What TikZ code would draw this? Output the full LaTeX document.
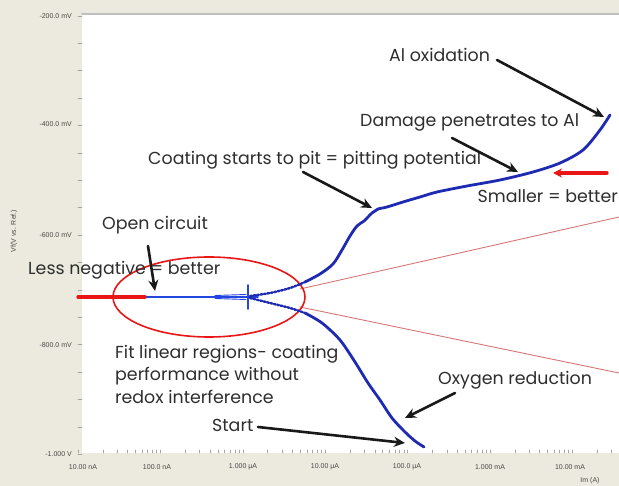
\documentclass[tikz,border=0pt]{standalone}
\usepackage{fontspec}
\setmainfont{Poppins}
\newfontfamily\tickfont{Liberation Sans}
\usetikzlibrary{arrows.meta}
\definecolor{panel}{RGB}{236,234,222}
\definecolor{scanblue}{RGB}{30,42,178}
\definecolor{flatblue}{RGB}{35,70,225}
\definecolor{tafelred}{RGB}{214,120,120}
\definecolor{hintred}{RGB}{232,22,22}

\begin{document}
\begin{tikzpicture}[x=1pt,y=-1pt,line cap=round,
  note/.style={font=\fontsize{17.4}{22.5}\selectfont,text=black!82,inner sep=0pt},
  tick label/.style={font=\tickfont\fontsize{7}{8}\selectfont,text=black!72,inner sep=0pt},
  axis tick/.style={black!35,line width=0.6pt},
  pointer/.style={-{Stealth[length=11pt,width=10pt]},line width=2.6pt,black!90},
  hint/.style={hintred,line width=3.2pt}
  ]

  % panel and plot area
  \fill[panel] (0,0) rectangle (619,486);
  \useasboundingbox (0,0) rectangle (619,486);
  \fill[white] (82,15) rectangle (619,453);
  \draw[black!25,line width=2pt] (82,14) -- (619,14);

  % y axis
  \foreach \v/\y in {-200.0 mV/16,-400.0 mV/124,-600.0 mV/235,-800.0 mV/345,-1.000 V/454}
    \node[tick label,anchor=east] at (72,\y) {\v};
  \foreach \k in {0,...,16}
    \draw[axis tick] (78,16+27.4*\k) -- (82,16+27.4*\k);
  \node[tick label,rotate=90] (vtitle) at (14,231) {Vf(V vs. Ref.)};

  % x axis
  \foreach \v/\x in {10.00 nA/83,100.0 nA/157,1.000 µA/243,10.00 µA/325,100.0 µA/407,1.000 mA/490,10.00 mA/570}
    \node[tick label] at (\x,467) {\v};
  \foreach \d in {0,...,6}
    \foreach \m in {1,...,9}
      \draw[axis tick] ({78+82.4*\d+82.4*log10(\m)},450) -- ++(0,3);
  \node[tick label] (ititle) at (590,481) {Im (A)};

  % Tafel fits and open circuit region
  \draw[tafelred,line width=0.9pt] (300,289) -- (619,217);
  \draw[tafelred,line width=0.9pt] (300,307) -- (619,373);
  \draw[hintred,line width=1.6pt] (209,297) ellipse [x radius=96,y radius=40];

  % polarisation scan
  \draw[flatblue,line width=2.4pt] (145,297) -- (248,297);
  \draw[flatblue,line width=0.9pt] (215,295.5) -- (246,294.5) (215,298.5) -- (246,299.5);
  \draw[flatblue,line width=1.6pt] (248,285) -- (248,309) (238,297) -- (258,297);
  \draw[scanblue,line width=2.4pt,dash pattern=on 2pt off 1.5pt]
    plot[smooth] coordinates {(250,296) (270,293) (290,288) (305,282)};
  \draw[scanblue,line width=2.4pt,dash pattern=on 2pt off 1.5pt]
    plot[smooth] coordinates {(250,298) (270,303) (290,308) (305,313)};
  \draw[scanblue,line width=2.8pt] plot[smooth] coordinates {
    (305,282) (320,274) (333,264) (342,250) (350,236) (357,226) (364,221)
    (368,217) (372,213) (375,211) (378,209) (387,207) (403,202) (420,197)
    (437,192) (467,186) (500,180) (533,172) (560,163) (583,150) (600,130) (610,115)};
  \draw[scanblue,line width=2.8pt] plot[smooth] coordinates {
    (305,313) (322,323) (340,340) (355,362) (368,383) (380,400) (392,418)
    (405,432) (415,441) (424,447)};

  % red markers
  \draw[hint] (78,297) -- (145,297);
  \coordinate (small-tail) at (607,173);
  \coordinate (small-tip) at (553,173);
  \draw[hint,-{Stealth[length=9pt,width=9pt]}] (small-tail) -- (small-tip);

  % labels
  \node[note,anchor=west] (alox) at (389,55) {Al oxidation};
  \node[note,anchor=west] (damage) at (360,122) {Damage penetrates to Al};
  \node[note,anchor=west] (coating) at (148,160) {Coating starts to pit = pitting potential};
  \node[note,anchor=east] (smaller) at (618,196) {Smaller = better};
  \node[note,anchor=west] (opencirc) at (102,225) {Open circuit};
  \node[note,anchor=west] (lessneg) at (28,270) {Less negative = better};
  \node[note,anchor=north west,align=left] (fit) at (115,345)
    {Fit linear regions- coating\\performance without\\redox interference};
  \node[note,anchor=west] (oxygen) at (438,380) {Oxygen reduction};
  \node[note,anchor=west] (start) at (212,425) {Start};

  % pointers
  \coordinate (alox-tail) at (497,60);
  \coordinate (alox-tip) at (604,117);
  \coordinate (damage-tail) at (452,138);
  \coordinate (damage-tip) at (518,172);
  \coordinate (coating-tail) at (303,172);
  \coordinate (coating-tip) at (372,208);
  \coordinate (open-tail) at (148,246);
  \coordinate (open-tip) at (155,291);
  \coordinate (oxygen-tail) at (455,393);
  \coordinate (oxygen-tip) at (405,418);
  \coordinate (start-tail) at (258,427);
  \coordinate (start-tip) at (405,443);
  \foreach \p in {alox,damage,coating,open,oxygen,start}
    \draw[pointer] (\p-tail) -- (\p-tip);
\end{tikzpicture}
\end{document}
